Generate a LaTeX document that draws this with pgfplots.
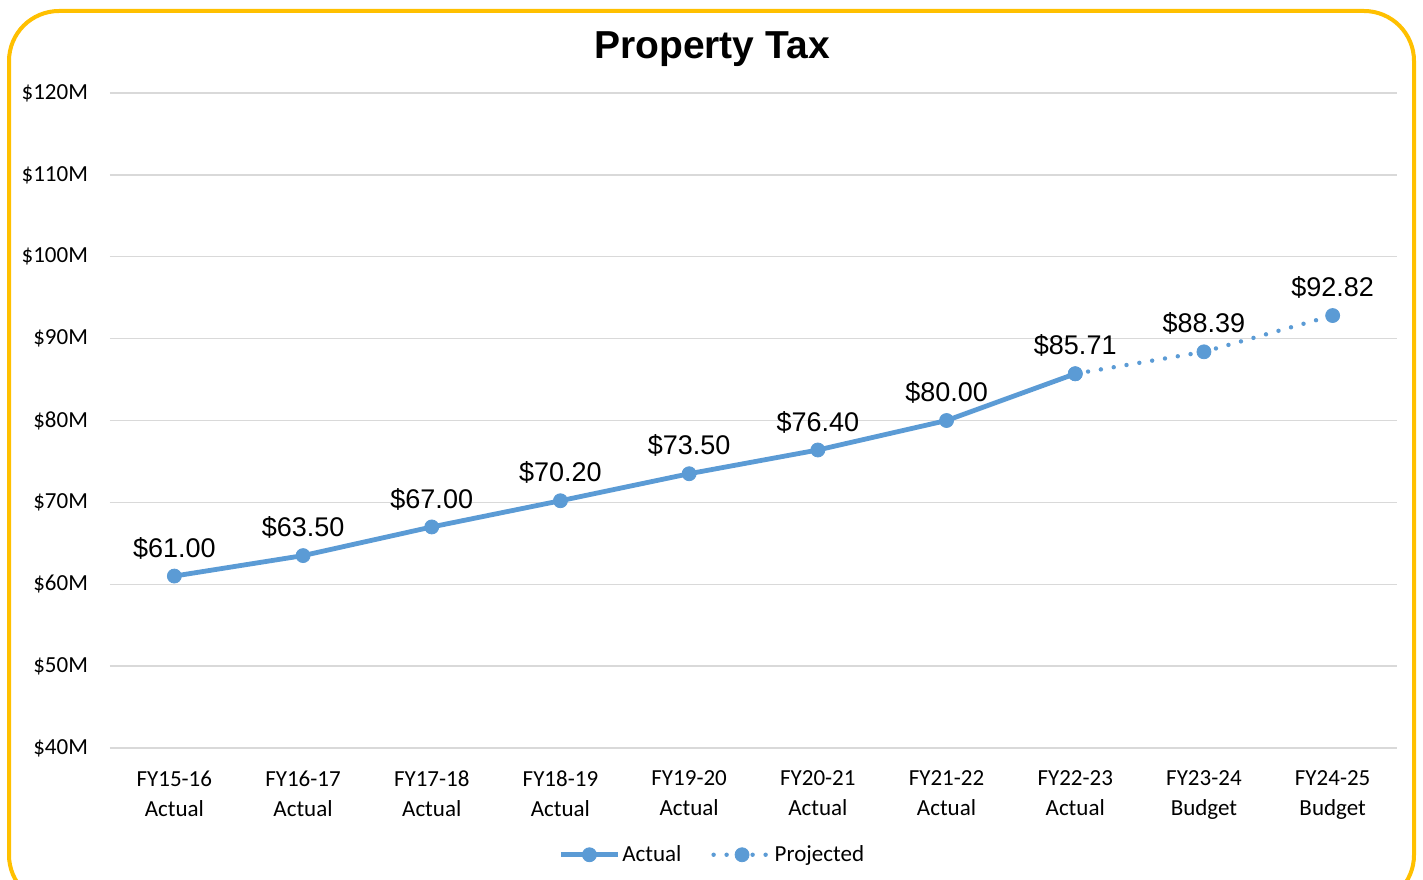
\documentclass[border=0pt]{standalone}
\usepackage{fontspec}
\setmainfont{Carlito}
\newfontfamily\arial{Liberation Sans}
\usepackage{pgfplots}
\pgfplotsset{compat=1.18}
\definecolor{exblue}{HTML}{5B9BD5}
\definecolor{gridgray}{HTML}{D9D9D9}
\definecolor{frame}{HTML}{FFC000}
\begin{document}
\begin{tikzpicture}
\path[use as bounding box,clip] (0,0) rectangle (711.5pt,439.5pt);
\fill[white] (0,0) rectangle (711.5pt,439.5pt);
\begin{axis}[
at={(55pt,65.5pt)},anchor=south west,
scale only axis,width=643.5pt,height=327.5pt,
xmin=-0.5,xmax=9.5,ymin=40,ymax=120,
axis line style={draw=none},
tick style={draw=none},
ytick={40,50,...,120},
yticklabels={\$40M,\$50M,\$60M,\$70M,\$80M,\$90M,\$100M,\$110M,\$120M},
yticklabel style={font=\fontsize{11.5}{14}\selectfont,xshift=-7.5pt},
xtick={0,...,9},
xticklabels={{FY15-16\\Actual},{FY16-17\\Actual},{FY17-18\\Actual},{FY18-19\\Actual},{FY19-20\\Actual},{FY20-21\\Actual},{FY21-22\\Actual},{FY22-23\\Actual},{FY23-24\\Budget},{FY24-25\\Budget}},
xticklabel style={font=\fontsize{11.5}{15}\selectfont,align=center,yshift=-8pt},
ymajorgrids=true,
major grid style={gridgray,line width=0.7pt},
point meta=explicit symbolic,
nodes near coords,
every node near coord/.style={font=\arial\fontsize{13.5}{16}\selectfont,anchor=center,yshift=14pt,text=black},
legend columns=2,
legend style={draw=none,at={(0.468,-0.163)},anchor=center,font=\fontsize{11.5}{14}\selectfont,
  nodes={inner sep=1pt},
  /tikz/every even column/.append style={column sep=14pt}},
legend image code/.code={\draw[mark repeat=2,mark phase=2,#1] plot coordinates {(0cm,0cm) (0.5cm,0cm) (1cm,0cm)};},
]
\addplot[exblue,line width=2.4pt,mark=*,mark size=3.5pt,mark options={solid,line width=0.4pt}]
coordinates {(0,61.00)[\$61.00] (1,63.50)[\$63.50] (2,67.00)[\$67.00] (3,70.20)[\$70.20] (4,73.50)[\$73.50] (5,76.40)[\$76.40] (6,80.00)[\$80.00] (7,85.71)[\$85.71]};
\addlegendentry{Actual}
\addplot[exblue,line width=2.2pt,line cap=round,dash pattern=on 0pt off 6.5pt,mark=*,mark size=3.5pt,mark options={solid,line width=0.4pt},
  nodes near coords={}]
coordinates {(7,85.71) (8,88.39) (9,92.82)};
\addlegendentry{Projected}
\addplot[draw=none,forget plot]
coordinates {(8,88.39)[\$88.39] (9,92.82)[\$92.82]};
\end{axis}
\node[font=\arial\bfseries\fontsize{19.5}{22}\selectfont] at (356pt,415pt) {Property Tax};
\draw[frame,line width=2pt,rounded corners=25pt] (4.5pt,434pt) rectangle (707pt,-13pt);
\end{tikzpicture}
\end{document}
